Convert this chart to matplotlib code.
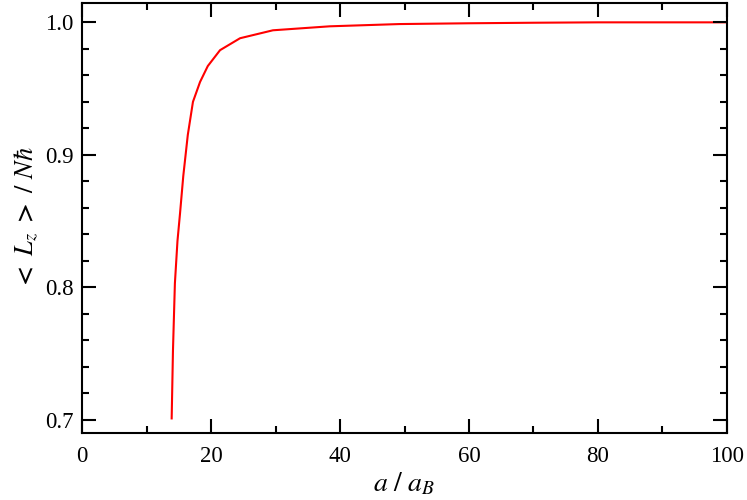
import matplotlib
matplotlib.use("Agg")
import matplotlib.pyplot as plt
from matplotlib.ticker import MultipleLocator, FormatStrFormatter

a_over_aB = [13.9, 14.1, 14.4, 14.8, 15.2, 15.7, 16.4, 17.2, 18.3, 19.5, 21.4, 24.5, 29.6, 38.4, 49.2, 60.0, 70.0, 80.0, 90.0, 100.0]
Lz_over_Nhbar = [0.701, 0.752, 0.803, 0.835, 0.856, 0.884, 0.915, 0.940, 0.955, 0.967, 0.979, 0.988, 0.994, 0.997, 0.9987, 0.9993, 0.9997, 1.0, 1.0, 1.0]

plt.rcParams['mathtext.fontset'] = 'stix'
plt.rcParams['font.family'] = ['Liberation Serif', 'DejaVu Serif']

fig = plt.figure(figsize=(7.47, 5.0), dpi=100)
ax = fig.add_axes([0.1098, 0.134, 0.8634, 0.86])

ax.plot(a_over_aB, Lz_over_Nhbar, color='#ff0000', lw=1.5, zorder=1)

ax.set_xlim(0, 100)
ax.set_ylim(0.69, 1.0146)
ax.xaxis.set_major_locator(MultipleLocator(20))
ax.xaxis.set_minor_locator(MultipleLocator(10))
ax.yaxis.set_major_locator(MultipleLocator(0.1))
ax.yaxis.set_minor_locator(MultipleLocator(0.02))
ax.yaxis.set_major_formatter(FormatStrFormatter('%.1f'))

ax.tick_params(which='both', direction='in', top=True, right=True, width=1.5, labelsize=16.5)
ax.tick_params(which='major', length=10)
ax.tick_params(which='minor', length=5)
ax.tick_params(axis='x', pad=9)
ax.tick_params(axis='y', pad=6)
for s in ax.spines.values():
    s.set_linewidth(1.5)

ax.set_xlabel(r'$a\ /\ a_B$', fontsize=20, labelpad=3)
ax.set_ylabel(r'$\mathbf{<}\ L_z\ \mathbf{>}\ /\ N\hbar$', fontsize=19, labelpad=4)

fig.savefig('out.png', dpi=100)
